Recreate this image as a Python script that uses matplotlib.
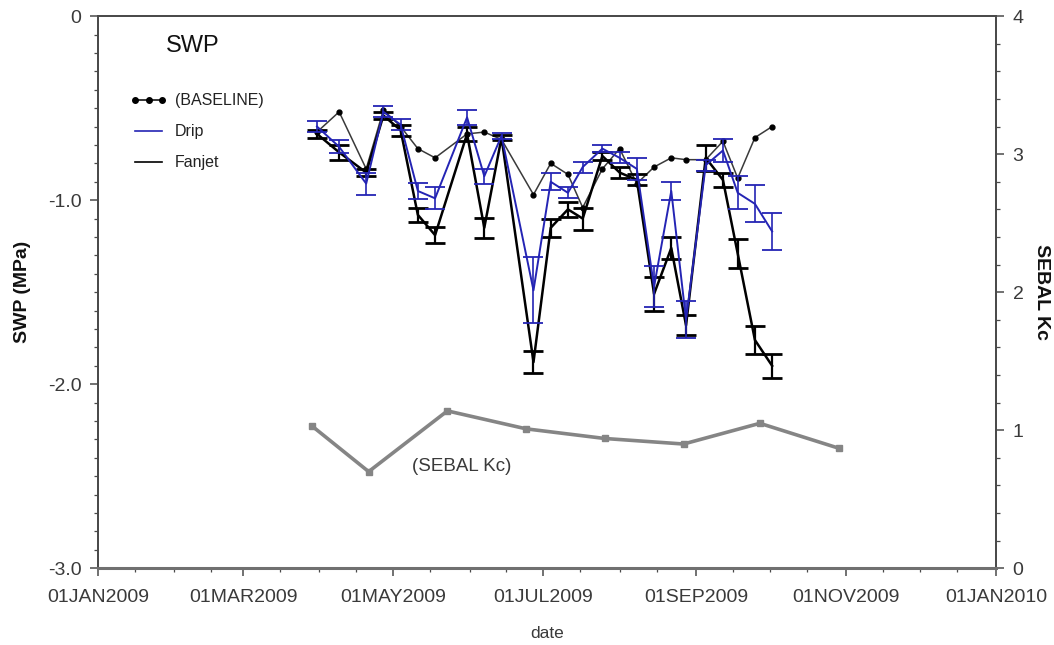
import datetime as dt
import matplotlib
matplotlib.use("Agg")
import matplotlib.pyplot as plt
import matplotlib.dates as mdates
from matplotlib.lines import Line2D
from matplotlib.ticker import FuncFormatter, MultipleLocator

plt.rcParams["font.family"] = ["Liberation Sans", "DejaVu Sans"]

# sampling dates (2009) and stem water potential, MPa
swp_dates = ["2009-03-31", "2009-04-09", "2009-04-20", "2009-04-27", "2009-05-04",
             "2009-05-11", "2009-05-18", "2009-05-31", "2009-06-07", "2009-06-14",
             "2009-06-27", "2009-07-04", "2009-07-11", "2009-07-17", "2009-07-25",
             "2009-08-01", "2009-08-08", "2009-08-15", "2009-08-22", "2009-08-28",
             "2009-09-05", "2009-09-12", "2009-09-18", "2009-09-25", "2009-10-02"]

baseline = [-0.63, -0.52, -0.83, -0.51, -0.60, -0.72, -0.77, -0.64, -0.63, -0.67,
            -0.97, -0.80, -0.86, -1.04, -0.83, -0.72, -0.91, -0.82, -0.77, -0.78,
            -0.78, -0.68, -0.88, -0.66, -0.60]

drip = [-0.60, -0.71, -0.91, -0.52, -0.59, -0.95, -0.99, -0.55, -0.87, -0.65,
        -1.49, -0.90, -0.96, -0.82, -0.72, -0.77, -0.83, -1.47, -0.95, -1.65,
        -0.81, -0.73, -0.96, -1.02, -1.17]
drip_err = [0.03, 0.035, 0.06, 0.03, 0.03, 0.045, 0.06, 0.04, 0.04, 0.015,
            0.18, 0.045, 0.03, 0.03, 0.02, 0.03, 0.06, 0.11, 0.05, 0.10,
            0.03, 0.06, 0.09, 0.10, 0.10]

fanjet = [-0.64, -0.74, -0.85, -0.54, -0.62, -1.08, -1.19, -0.64, -1.15, -0.66,
          -1.88, -1.15, -1.05, -1.10, -0.76, -0.85, -0.89, -1.51, -1.26, -1.68,
          -0.77, -0.89, -1.29, -1.76, -1.90]
fanjet_err = [0.02, 0.04, 0.02, 0.02, 0.03, 0.04, 0.045, 0.04, 0.055, 0.015,
              0.06, 0.05, 0.04, 0.06, 0.02, 0.03, 0.03, 0.09, 0.06, 0.055,
              0.07, 0.04, 0.08, 0.075, 0.065]

# satellite overpass dates and SEBAL crop coefficient
kc_dates = ["2009-03-29", "2009-04-21", "2009-05-23", "2009-06-24",
            "2009-07-26", "2009-08-27", "2009-09-27", "2009-10-29"]
sebal_kc = [1.03, 0.70, 1.14, 1.01, 0.94, 0.90, 1.05, 0.87]

xticks = ["2009-01-01", "2009-03-01", "2009-05-01", "2009-07-01",
          "2009-09-01", "2009-11-01", "2010-01-01"]


def to_dates(values):
    return [dt.datetime.strptime(v, "%Y-%m-%d") for v in values]


d_swp = to_dates(swp_dates)
d_kc = to_dates(kc_dates)
d_ticks = to_dates(xticks)

fig = plt.figure(figsize=(10.54, 6.45), dpi=100)
ax = fig.add_axes([0.093, 0.119, 0.852, 0.856])
ax2 = ax.twinx()

spine_c = "#4a4a4a"
text_c = "#3a3a3a"

# right axis: SEBAL Kc
ax2.plot(d_kc, sebal_kc, color="#858585", lw=2.6, marker="s", ms=4,
         markerfacecolor="#858585", zorder=2)
ax2.set_ylim(0, 4)
ax2.yaxis.set_major_locator(MultipleLocator(1))
ax2.yaxis.set_minor_locator(MultipleLocator(0.2))
ax2.yaxis.set_major_formatter(FuncFormatter(lambda v, p: "%d" % v))
ax2.set_ylabel("SEBAL Kc", fontsize=14, fontweight="bold", rotation=270,
               color="#111111")
ax2.yaxis.set_label_coords(1.06, 0.5)
ax2.text(dt.datetime(2009, 5, 29), 0.74, "(SEBAL Kc)", fontsize=13.5,
         ha="center", va="center", color=text_c)

# left axis: SWP series (drawn above the twin)
ax.set_zorder(ax2.get_zorder() + 1)
ax.patch.set_visible(False)

ax.plot(d_swp, baseline, color="#3a3a3a", lw=1.1, marker="o", ms=3.5,
        markerfacecolor="black", markeredgecolor="black", zorder=3)
ax.errorbar(d_swp, fanjet, yerr=fanjet_err, color="black", lw=1.8,
            elinewidth=1.6, capsize=7, capthick=2.0, zorder=4)
ax.errorbar(d_swp, drip, yerr=drip_err, color="#2424b4", lw=1.4,
            elinewidth=1.2, capsize=7, capthick=1.3, zorder=5)

ax.set_ylim(-3.0, 0)
ax.yaxis.set_major_locator(MultipleLocator(1))
ax.yaxis.set_minor_locator(MultipleLocator(0.1))
ax.yaxis.set_major_formatter(FuncFormatter(lambda v, p: "0" if abs(v) < 1e-9 else "%.1f" % v))
ax.set_ylabel("SWP (MPa)", fontsize=14, fontweight="bold", labelpad=12, color="#111111")

ax.set_xlim(d_ticks[0], d_ticks[-1])
ax.set_xticks(d_ticks)
ax.xaxis.set_minor_locator(mdates.DayLocator(bymonthday=[1, 16]))
ax.xaxis.set_major_formatter(FuncFormatter(
    lambda v, p: mdates.num2date(v).strftime("%d%b%Y").upper()))
ax.set_xlabel("date", fontsize=12.5, labelpad=14, color=text_c)

for a in (ax, ax2):
    for s in a.spines.values():
        s.set_color(spine_c)
        s.set_linewidth(1.3)
    a.tick_params(which="major", length=6, width=1.1, color=spine_c,
                  labelsize=14, labelcolor=text_c, pad=6)
    a.tick_params(which="minor", length=3, width=0.9, color=spine_c)
ax.spines["bottom"].set_linewidth(2.2)
ax.spines["bottom"].set_color("#707070")
ax.tick_params(axis="x", pad=9)

# legend
ax.text(0.105, 0.945, "SWP", transform=ax.transAxes, fontsize=17,
        ha="center", va="center", color="#111111")
handles = [
    Line2D([], [], color="black", lw=1.1, marker="o", ms=4),
    Line2D([], [], color="#2424b4", lw=1.2),
    Line2D([], [], color="black", lw=1.2),
]
leg = ax.legend(handles, ["(BASELINE)", "Drip", "Fanjet"],
                loc="upper left", bbox_to_anchor=(0.036, 0.86), frameon=False,
                borderpad=0, borderaxespad=0, fontsize=11.5, numpoints=3,
                handlelength=2.3, labelspacing=1.0, handletextpad=0.5)
for t in leg.get_texts():
    t.set_color("#222222")

fig.savefig("out.png", dpi=100)
